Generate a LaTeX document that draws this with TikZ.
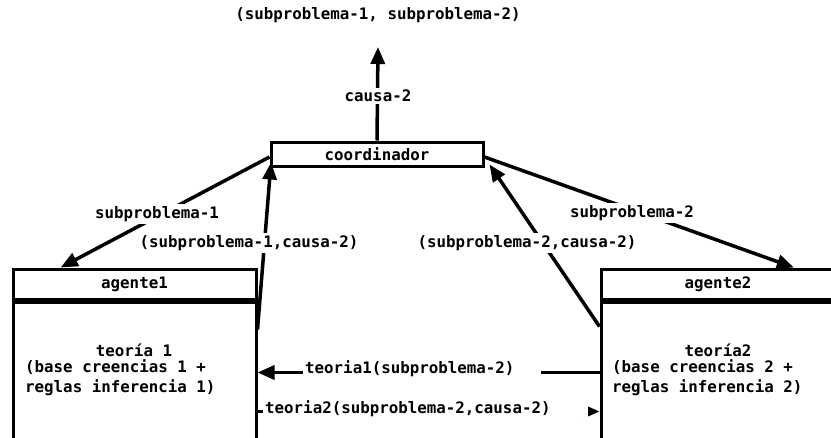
\documentclass[tikz,border=0pt]{standalone}
\usepackage{fontspec}
\setmainfont{DejaVu Sans Mono}
\usetikzlibrary{arrows.meta,calc}
\begin{document}
\begin{tikzpicture}[x=1pt, y=-1pt,
  font=\fontsize{15.8}{20}\selectfont\bfseries,
  box/.style={draw, line width=3pt, inner sep=0pt},
  link/.style={line width=3.5pt, -{Triangle[length=17pt,width=14pt]}},
  lbl/.style={fill=white, inner sep=2pt},
  txt/.style={inner sep=0pt}]
\useasboundingbox (0,0) rectangle (831,437);
\clip (0,0) rectangle (831,437);

% coordinator and the two agents
\node[box, minimum width=212pt, minimum height=24pt] (coord) at (377,154) {coordinador};

\node[box, minimum width=243pt, minimum height=30pt] (ag1h) at (134.5,284) {agente1};
\node[box, minimum width=243pt, minimum height=170pt, anchor=north] (ag1b) at (ag1h.south) {};
\node[txt] (t1) at (134,350) {teoría 1};
\node[txt, anchor=west, align=left] (t1b) at (25,378) {(base creencias 1 +\\reglas inferencia 1)};

\node[box, minimum width=234pt, minimum height=30pt] (ag2h) at (718,284) {agente2};
\node[box, minimum width=234pt, minimum height=170pt, anchor=north] (ag2b) at (ag2h.south) {};
\node[txt] (t2) at (718,350) {teoría2};
\node[txt, anchor=west, align=left] (t2b) at (612,378) {(base creencias 2 +\\reglas inferencia 2)};

% final result
\node[txt] (goal) at (378,15) {(subproblema-1, subproblema-2)};
\coordinate (goaltip) at (378,47);

% connectors
\draw[link] (coord.north) -- (goaltip);
\draw[link] ([yshift=-3pt]coord.west) -- ($(ag1h.north west)!0.2!(ag1h.north east)$);
\draw[link] ($(ag1b.north east)+(0,29)$) -- ([xshift=1.5pt,yshift=5pt]coord.south west);
\draw[link] ([yshift=-3pt]coord.east) -- ($(ag2h.north west)!0.82!(ag2h.north east)$);
\draw[link] ($(ag2b.north west)+(0,26)$) -- ([xshift=5pt,yshift=3pt]coord.south east);
\draw[link] ($(ag2b.north west)+(0,72)$) -- ($(ag1b.north east)+(0,72)$);
\draw[link] ($(ag1b.north east)+(0,111)$) -- ($(ag2b.north west)+(0,111)$);

% connector labels
\node[lbl] (lcausa) at (378,96) {causa-2};
\node[lbl] (ls1) at (157,214) {subproblema-1};
\node[lbl] (ls1c) at (249,243) {(subproblema-1,causa-2)};
\node[lbl] (ls2) at (632,213) {subproblema-2};
\node[lbl] (ls2c) at (527,243) {(subproblema-2,causa-2)};
\node[lbl, anchor=west] (lt1) at (303,369) {teoria1(subproblema-2)\hspace*{25pt}};
\node[lbl, anchor=west] (lt2) at (263,409) {teoria2(subproblema-2,causa-2)\hspace*{35pt}};
\end{tikzpicture}
\end{document}
